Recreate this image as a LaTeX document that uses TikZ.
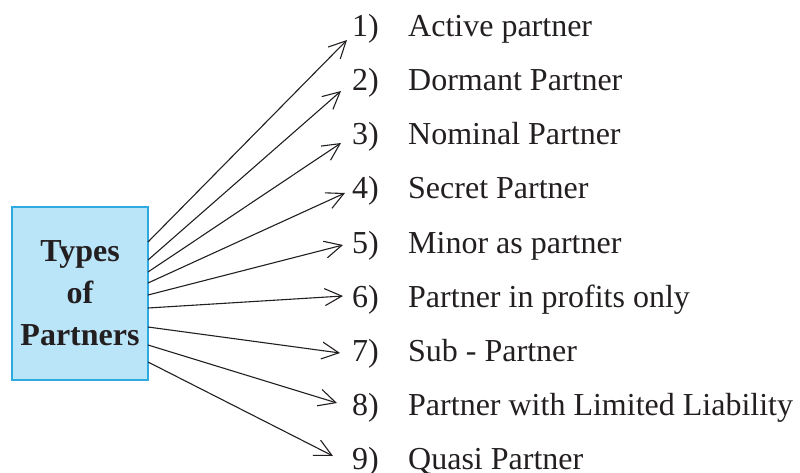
\documentclass[tikz,border=0pt]{standalone}
\usepackage{fontspec}
\setmainfont{Liberation Serif}
\usetikzlibrary{arrows.meta}
\usetikzlibrary{positioning}
\definecolor{boxfill}{HTML}{BAE4F8}
\definecolor{boxline}{HTML}{2EAAE1}
\definecolor{ink}{HTML}{231F20}

\begin{document}
\begin{tikzpicture}[x=1pt, y=-1pt, font=\fontsize{32}{42}\selectfont, text=ink,
		item/.style={anchor=base west, inner sep=0pt},
		arr/.style={draw=ink, line width=1.1pt, -{Straight Barb[length=17pt, width=17pt, line width=1.1pt]}}]
				\useasboundingbox (0,0) rectangle (800,473);
				
				\node[draw=boxline, fill=boxfill, line width=1.2pt, minimum width=136pt, minimum height=173pt, align=center, font=\fontsize{32}{42}\selectfont\bfseries] (types) at (80,293.5) {Types\\of\\Partners};
				
				\node[item] (n1) at (352,37) {1)};
				\node[item] (n2) at (352,91) {2)};
				\node[item] (n3) at (352,145) {3)};
				\node[item] (n4) at (352,199) {4)};
				\node[item] (n5) at (352,253) {5)};
				\node[item] (n6) at (352,307) {6)};
				\node[item] (n7) at (352,361) {7)};
				\node[item] (n8) at (352,415) {8)};
				\node[item] (n9) at (352,469) {9)};
				
				\node[item] (t1) at (408,37) {Active partner};
				\node[item] (t2) at (408,91) {Dormant Partner};
				\node[item] (t3) at (408,145) {Nominal Partner};
				\node[item] (t4) at (408,199) {Secret Partner};
				\node[item] (t5) at (408,253) {Minor as partner};
				\node[item] (t6) at (408,307) {Partner in profits only};
				\node[item] (t7) at (408,361) {Sub - Partner};
				\node[item] (t8) at (408,415) {Partner with Limited Liability};
				\node[item] (t9) at (408,469) {Quasi Partner};
				
				% where the arrows leave the box and where they stop
				\coordinate (s1) at (148,242);
				\coordinate (s2) at (148,260);
				\coordinate (s3) at (148,272);
				\coordinate (s4) at (148,283);
				\coordinate (s5) at (148,295);
				\coordinate (s6) at (148,308);
				\coordinate (s7) at (148,327);
				\coordinate (s8) at (148,345);
				\coordinate (s9) at (148,362);
				
				\coordinate (e1) at (347,40);
				\coordinate (e2) at (341,91);
				\coordinate (e3) at (341,143);
				\coordinate (e4) at (345,193);
				\coordinate (e5) at (343,245);
				\coordinate (e6) at (343,296);
				\coordinate (e7) at (340,353);
				\coordinate (e8) at (337,403);
				\coordinate (e9) at (333,456);
				
				\draw[arr] (s1) -- (e1);
				\draw[arr] (s2) -- (e2);
				\draw[arr] (s3) -- (e3);
				\draw[arr] (s4) -- (e4);
				\draw[arr] (s5) -- (e5);
				\draw[arr] (s6) -- (e6);
				\draw[arr] (s7) -- (e7);
				\draw[arr] (s8) -- (e8);
				\draw[arr] (s9) -- (e9);
			\end{tikzpicture}
\end{document}
